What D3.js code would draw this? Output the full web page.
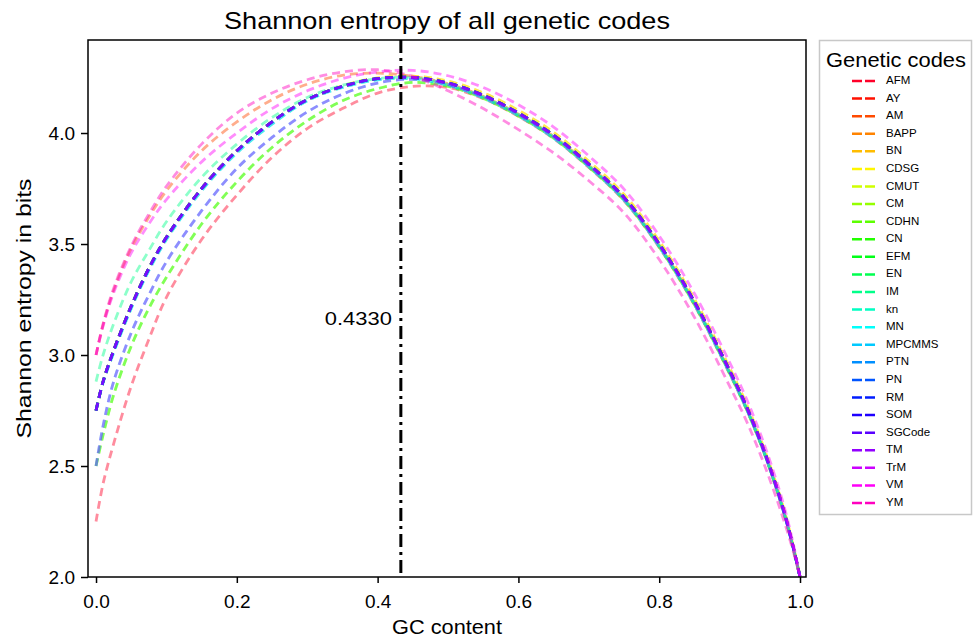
<!DOCTYPE html>
<html>
<head>
<meta charset="utf-8">
<script src="https://cdn.jsdelivr.net/npm/d3@7/dist/d3.min.js"></script>
<style>
  html, body { margin: 0; padding: 0; background: #fff; }
  svg { display: block; }
  text { font-family: "Liberation Sans", Arial, sans-serif; fill: #000; }
</style>
</head>
<body>
<svg id="chart" width="973" height="637"></svg>
<script>
// ---------------- DATA ----------------
const gcContent = [0, 0.01, 0.025, 0.05, 0.075, 0.1, 0.15, 0.2, 0.25, 0.3, 0.35, 0.4, 0.45,
                   0.5, 0.55, 0.6, 0.65, 0.7, 0.75, 0.8, 0.85, 0.9, 0.925, 0.95, 0.975, 0.99, 1.0];

const entropyAFM = [2.25, 2.42, 2.60, 2.86, 3.07, 3.26, 3.52, 3.72, 3.89, 4.02, 4.11, 4.18, 4.21,
                    4.205, 4.155, 4.075, 3.975, 3.845, 3.695, 3.485, 3.225, 2.915, 2.748, 2.55, 2.31, 2.135, 2.0];
const entropyStd = [2.75, 2.88, 3.02, 3.22, 3.39, 3.53, 3.75, 3.92, 4.05, 4.15, 4.21, 4.245, 4.25,
                    4.225, 4.17, 4.09, 3.99, 3.86, 3.71, 3.50, 3.24, 2.93, 2.76, 2.56, 2.32, 2.14, 2.0];
const entropyStdHigh = [2.75, 2.88, 3.02, 3.22, 3.39, 3.53, 3.75, 3.92, 4.05, 4.15, 4.212, 4.248, 4.256,
                    4.234, 4.181, 4.102, 4.003, 3.873, 3.723, 3.513, 3.252, 2.942, 2.771, 2.57, 2.328, 2.145, 2.0];
const entropyStdLow = [2.75, 2.875, 3.01, 3.21, 3.38, 3.52, 3.74, 3.91, 4.04, 4.145, 4.205, 4.24, 4.244,
                    4.215, 4.158, 4.078, 3.977, 3.848, 3.698, 3.488, 3.228, 2.918, 2.75, 2.552, 2.313, 2.135, 2.0];
const entropyTwoA = [2.5, 2.68, 2.88, 3.10, 3.27, 3.42, 3.65, 3.84, 3.98, 4.095, 4.175, 4.225, 4.242,
                    4.218, 4.163, 4.083, 3.983, 3.853, 3.703, 3.493, 3.233, 2.923, 2.753, 2.553, 2.313, 2.135, 2.0];
const entropyTwoB = [2.5, 2.64, 2.82, 3.04, 3.21, 3.35, 3.59, 3.78, 3.935, 4.055, 4.145, 4.20, 4.228,
                    4.21, 4.157, 4.077, 3.977, 3.847, 3.697, 3.487, 3.227, 2.917, 2.748, 2.551, 2.312, 2.134, 2.0];
const entropyIM  = [2.88, 3.0, 3.14, 3.33, 3.47, 3.60, 3.80, 3.95, 4.07, 4.16, 4.215, 4.245, 4.25,
                    4.218, 4.163, 4.083, 3.983, 3.853, 3.703, 3.493, 3.233, 2.923, 2.753, 2.553, 2.313, 2.135, 2.0];
const entropyVM  = [3.0, 3.13, 3.28, 3.46, 3.59, 3.70, 3.87, 4.00, 4.11, 4.19, 4.245, 4.275, 4.282,
                    4.258, 4.205, 4.127, 4.027, 3.897, 3.747, 3.537, 3.277, 2.967, 2.795, 2.59, 2.345, 2.155, 2.0];
const entropyAM  = [3.0, 3.135, 3.29, 3.48, 3.62, 3.74, 3.92, 4.05, 4.15, 4.22, 4.26, 4.27, 4.255,
                    4.222, 4.165, 4.085, 3.985, 3.855, 3.705, 3.495, 3.235, 2.925, 2.755, 2.555, 2.315, 2.137, 2.0];
const entropyYM  = [3.0, 3.14, 3.30, 3.49, 3.635, 3.76, 3.95, 4.09, 4.18, 4.24, 4.275, 4.285, 4.255,
                    4.19, 4.11, 4.015, 3.91, 3.785, 3.64, 3.43, 3.17, 2.86, 2.695, 2.5, 2.275, 2.12, 2.0];

const codeNames = ["AFM", "AY", "AM", "BAPP", "BN", "CDSG", "CMUT", "CM", "CDHN", "CN", "EFM", "EN",
                   "IM", "kn", "MN", "MPCMMS", "PTN", "PN", "RM", "SOM", "SGCode", "TM", "TrM", "VM", "YM"];
const codeSeries = [entropyAFM, entropyStd, entropyAM, entropyStd, entropyStdHigh, entropyStdHigh,
                    entropyTwoB, entropyStd, entropyStd, entropyStd, entropyTwoB, entropyStd,
                    entropyIM, entropyStdLow, entropyTwoA, entropyStdLow, entropyStd, entropyStd,
                    entropyStd, entropyStd, entropyStd, entropyTwoA, entropyStd, entropyVM, entropyYM];

const maxGC = 0.4330;
const xTicks = [0.0, 0.2, 0.4, 0.6, 0.8, 1.0];
const yTicks = [2.0, 2.5, 3.0, 3.5, 4.0];

// ---------------- STYLE HELPERS ----------------
// gist_rainbow colormap stops
const rainbowStops = [
  [0.000, [1.00, 0.00, 0.16]], [0.030, [1.00, 0.00, 0.00]], [0.215, [1.00, 1.00, 0.00]],
  [0.400, [0.00, 1.00, 0.00]], [0.586, [0.00, 1.00, 1.00]], [0.770, [0.00, 0.00, 1.00]],
  [0.954, [1.00, 0.00, 1.00]], [1.000, [1.00, 0.00, 0.75]]
];
function gistRainbow(t) {
  for (let i = 0; i < rainbowStops.length - 1; i++) {
    const [t0, c0] = rainbowStops[i], [t1, c1] = rainbowStops[i + 1];
    if (t >= t0 && t <= t1) {
      const f = (t - t0) / (t1 - t0);
      const c = c0.map((v, k) => Math.round(255 * (v + (c1[k] - v) * f)));
      return `rgb(${c[0]},${c[1]},${c[2]})`;
    }
  }
  return "rgb(255,0,191)";
}

// ---------------- LAYOUT ----------------
const svg = d3.select("#chart");
const plot = { left: 88, right: 806, top: 40, bottom: 577 };

const x = d3.scaleLinear().domain([-0.0114, 1.0085]).range([plot.left, plot.right]);
const y = d3.scaleLinear().domain([2.0, 4.419]).range([plot.bottom, plot.top]);

svg.append("defs").append("clipPath").attr("id", "clip")
  .append("rect").attr("x", plot.left).attr("y", plot.top)
  .attr("width", plot.right - plot.left).attr("height", plot.bottom - plot.top);

// curves
const line = d3.line()
  .x(d => x(d[0])).y(d => y(d[1]))
  .curve(d3.curveCatmullRom.alpha(0.5));

const gLines = svg.append("g").attr("clip-path", "url(#clip)");
codeNames.forEach((name, i) => {
  const pts = gcContent.map((g, k) => [g, codeSeries[i][k]]);
  gLines.append("path")
    .attr("d", line(pts))
    .attr("fill", "none")
    .attr("stroke", gistRainbow(i / (codeNames.length - 1)))
    .attr("stroke-width", 2.8)
    .attr("stroke-opacity", 0.45)
    .attr("stroke-dasharray", "8,5");
});

// vertical dash-dot line
svg.append("line")
  .attr("x1", x(maxGC)).attr("x2", x(maxGC))
  .attr("y1", plot.top).attr("y2", plot.bottom)
  .attr("stroke", "#000").attr("stroke-width", 3)
  .attr("stroke-dasharray", "13,5,3,5");

svg.append("text")
  .attr("x", x(maxGC) - 9).attr("y", y(3.16))
  .attr("text-anchor", "end").attr("dominant-baseline", "middle")
  .attr("font-size", 19).attr("textLength", 67).attr("lengthAdjust", "spacingAndGlyphs")
  .text(maxGC.toFixed(4));

// frame
svg.append("rect")
  .attr("x", plot.left).attr("y", plot.top)
  .attr("width", plot.right - plot.left).attr("height", plot.bottom - plot.top)
  .attr("fill", "none").attr("stroke", "#000").attr("stroke-width", 1.5);

// axes
const xAxis = svg.append("g").attr("transform", `translate(0,${plot.bottom})`)
  .call(d3.axisBottom(x).tickValues(xTicks).tickFormat(d3.format(".1f")).tickSize(6).tickPadding(12));
const yAxis = svg.append("g").attr("transform", `translate(${plot.left},0)`)
  .call(d3.axisLeft(y).tickValues(yTicks).tickFormat(d3.format(".1f")).tickSize(7).tickPadding(6));
[xAxis, yAxis].forEach(a => {
  a.select(".domain").remove();
  a.selectAll(".tick line").attr("stroke", "#000").attr("stroke-width", 1.5);
  a.selectAll(".tick text").attr("font-size", 19).attr("fill", "#000")
    .style("font-family", '"Liberation Sans", Arial, sans-serif');
});

// titles
svg.append("text").attr("x", (plot.left + plot.right) / 2).attr("y", 29)
  .attr("text-anchor", "middle").attr("font-size", 24)
  .attr("textLength", 446).attr("lengthAdjust", "spacingAndGlyphs")
  .text("Shannon entropy of all genetic codes");
svg.append("text").attr("x", (plot.left + plot.right) / 2).attr("y", 634)
  .attr("text-anchor", "middle").attr("font-size", 20)
  .attr("textLength", 110).attr("lengthAdjust", "spacingAndGlyphs")
  .text("GC content");
svg.append("text")
  .attr("transform", `translate(31,${(plot.top + plot.bottom) / 2}) rotate(-90)`)
  .attr("text-anchor", "middle").attr("font-size", 21)
  .attr("textLength", 260).attr("lengthAdjust", "spacingAndGlyphs")
  .text("Shannon entropy in bits");

// legend
const lg = svg.append("g");
lg.append("rect").attr("x", 819.5).attr("y", 40.5).attr("width", 152).attr("height", 474)
  .attr("fill", "#fff").attr("stroke", "#c8c8c8").attr("stroke-width", 1.5);
lg.append("text").attr("x", 896).attr("y", 67).attr("text-anchor", "middle")
  .attr("font-size", 21).attr("textLength", 140).attr("lengthAdjust", "spacingAndGlyphs")
  .text("Genetic codes");
const rowY = d3.scaleLinear().domain([0, codeNames.length - 1]).range([81, 503]);
codeNames.forEach((name, i) => {
  const yy = rowY(i);
  lg.append("line").attr("x1", 852).attr("x2", 875).attr("y1", yy).attr("y2", yy)
    .attr("stroke", gistRainbow(i / (codeNames.length - 1)))
    .attr("stroke-width", 2.5).attr("stroke-dasharray", "10,3");
  lg.append("text").attr("x", 886).attr("y", yy).attr("dominant-baseline", "middle")
    .attr("font-size", 11.5).attr("fill", "#222").text(name);
});
</script>
</body>
</html>
